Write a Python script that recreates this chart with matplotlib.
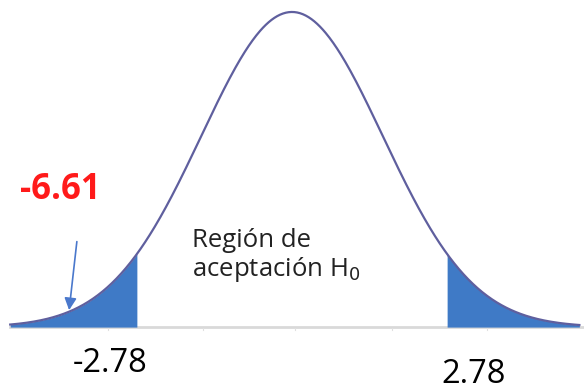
import numpy as np
import matplotlib
matplotlib.use('Agg')
import matplotlib.pyplot as plt

# valores del contraste
crit_vals = [-2.78, 2.78]
tick_labels = ['-2.78', '2.78']
t_stat_label = '-6.61'
sigma = 1.626          # ancho de la campana (en unidades del eje)
x_extent = [-5.05, 5.15]
arrow_x = -4.0         # posicion simbolica del estadistico (fuera de escala)

curve_color = '#5f5f9e'
fill_color = '#3f7ac6'

def campana(x):
    return np.exp(-x ** 2 / (2 * sigma ** 2))

fig = plt.figure(figsize=(5.84, 3.92), dpi=100)
ax = fig.add_axes([0, 0, 1, 1])
ax.set_xlim(-5.233, 5.233)
ax.set_ylim(-0.206, 1.038)
ax.axis('off')

# eje horizontal
ax.plot([x_extent[0], 5.233], [0, 0], color='#d9d9d9', lw=2, zorder=1)
for xt in [-3.3, -1.6, 0.05, 1.8, 3.5]:
    ax.plot([xt, xt], [-0.004, -0.01], color='#e0e0e0', lw=0.8, zorder=1)

# colas sombreadas
xl = np.linspace(x_extent[0], crit_vals[0], 200)
ax.fill_between(xl, 0, campana(xl), color=fill_color, lw=0, zorder=2)
xr = np.linspace(crit_vals[1], x_extent[1], 200)
ax.fill_between(xr, 0, campana(xr), color=fill_color, lw=0, zorder=2)

# curva
x = np.linspace(x_extent[0], x_extent[1], 600)
ax.plot(x, campana(x), color=curve_color, lw=1.6, zorder=3)

# etiquetas de valores criticos
ax.text(crit_vals[0] - 0.48, -0.117, tick_labels[0], fontsize=23.5,
        family='Open Sans', ha='center', va='center', color='black')
ax.text(crit_vals[1] + 0.48, -0.15, tick_labels[1], fontsize=23.5,
        family='Open Sans', ha='center', va='center', color='black')

# estadistico
ax.text(-4.16, 0.435, t_stat_label, fontsize=25, family='Open Sans',
        fontweight='bold', ha='center', va='center', color='#ff1a1a')
ax.annotate('', xy=(arrow_x, 0.045), xytext=(arrow_x + 0.15, 0.28),
            arrowprops=dict(arrowstyle='-|>', color='#4a78cc', lw=1.2,
                            mutation_scale=18), zorder=4)

# region de aceptacion
ax.text(-1.8, 0.225, 'Región de\naceptación H$_0$', fontsize=18.5,
        family='Open Sans', ha='left', va='center', linespacing=1.12,
        color='#222222')

fig.savefig('out.png', dpi=100)
